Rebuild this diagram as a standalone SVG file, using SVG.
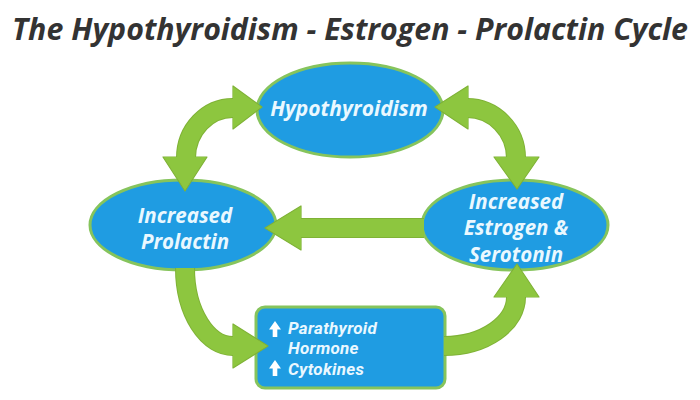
<svg xmlns="http://www.w3.org/2000/svg" xmlns:xlink="http://www.w3.org/1999/xlink" width="700" height="400" viewBox="0 0 700 400">
<style>
.title{font-family:"Open Sans","Liberation Sans",sans-serif;font-weight:700;font-style:italic;font-size:30px;fill:#333333}
.node{fill:#1f9ce2;stroke:#86c45c;stroke-width:3}
.lbl{font-family:"Open Sans","Liberation Sans",sans-serif;font-weight:700;font-style:italic;font-size:20.5px;fill:#eaf8ff;text-anchor:middle}
.blbl{font-family:Roboto,"Liberation Sans",sans-serif;font-weight:700;font-style:italic;font-size:17px;letter-spacing:0.3px;fill:#eaf8ff}
.shaft-e{fill:none;stroke:#7fb236;stroke-width:20}
.shaft-f{fill:none;stroke:#8dc63f;stroke-width:18}
.head-e{fill:#8dc63f;stroke:#7fb236;stroke-width:1.2;stroke-linejoin:round}
.head-f{fill:#8dc63f}
.up{fill:#ffffff}
</style>
<defs>
<path id="s1" d="M186,158 A47,50 0 0 1 234,108"/>
<path id="s2" d="M467,108 A49,50 0 0 1 516,158"/>
<path id="s3" d="M424,228 H300"/>
<path id="s4" d="M185,268 A48,78 0 0 0 234,346"/>
<path id="s5" d="M444,346 A72,49 0 0 0 516,296"/>
</defs>
<text class="title" x="350" y="40" text-anchor="middle" textLength="676" lengthAdjust="spacingAndGlyphs">The Hypothyroidism - Estrogen - Prolactin Cycle</text>

<g id="hypothyroidism">
<ellipse class="node" cx="350" cy="110" rx="93" ry="47"/>
<text class="lbl" x="349" y="116" style="font-size:21px">Hypothyroidism</text>
</g>
<g id="prolactin">
<ellipse class="node" cx="183" cy="225" rx="93" ry="45"/>
<text class="lbl" x="185" y="223">Increased</text>
<text class="lbl" x="185" y="249">Prolactin</text>
</g>
<g id="estrogen">
<ellipse class="node" cx="515" cy="225" rx="93" ry="45"/>
<text class="lbl" x="516" y="209">Increased</text>
<text class="lbl" x="516" y="235">Estrogen &amp;</text>
<text class="lbl" x="516" y="262">Serotonin</text>
</g>
<g id="pth-cytokines">
<rect class="node" x="256" y="307" width="189" height="81" rx="9"/>
<path class="up" d="M275,321 L281,329.5 H277.3 V337 H272.7 V329.5 H269 Z"/>
<path class="up" d="M275,360 L281,368.5 H277.3 V376 H272.7 V368.5 H269 Z"/>
<text class="blbl" x="288" y="333.5">Parathyroid</text>
<text class="blbl" x="288" y="354">Hormone</text>
<text class="blbl" x="288" y="374.5">Cytokines</text>
</g>

<g id="connectors">
<g class="edges">
<use xlink:href="#s1" class="shaft-e"/>
<use xlink:href="#s2" class="shaft-e"/>
<use xlink:href="#s3" class="shaft-e"/>
<use xlink:href="#s4" class="shaft-e"/>
<use xlink:href="#s5" class="shaft-e"/>
<polygon class="head-e" points="262,107 233,86 233,129"/>
<polygon class="head-e" points="185,191 163,157 207,157"/>
<polygon class="head-e" points="435,107 468,86 468,129"/>
<polygon class="head-e" points="517,189 494,157 539,157"/>
<polygon class="head-e" points="265,228 301,206 301,250"/>
<polygon class="head-e" points="268,346 233,324 233,368"/>
<polygon class="head-e" points="517,264 494,297 539,297"/>
</g>
<g class="fills">
<use xlink:href="#s1" class="shaft-f"/>
<use xlink:href="#s2" class="shaft-f"/>
<use xlink:href="#s3" class="shaft-f"/>
<use xlink:href="#s4" class="shaft-f"/>
<use xlink:href="#s5" class="shaft-f"/>
<polygon class="head-f" points="261,107 233,87 233,128"/>
<polygon class="head-f" points="185,190 164,157 206,157"/>
<polygon class="head-f" points="436,107 468,87 468,128"/>
<polygon class="head-f" points="517,188 495,157 538,157"/>
<polygon class="head-f" points="266,228 301,207 301,249"/>
<polygon class="head-f" points="267,346 233,325 233,367"/>
<polygon class="head-f" points="517,265 495,297 538,297"/>
</g>
</g>
</svg>
